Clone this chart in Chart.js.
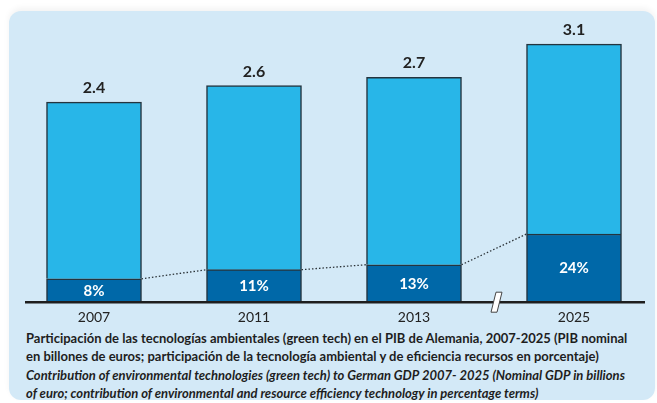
<!DOCTYPE html>
<html>
<head>
<meta charset="utf-8">
<script src="https://cdn.jsdelivr.net/npm/chart.js@4"></script>
<style>
  html, body { margin: 0; padding: 0; background: #fff; width: 657px; height: 403px; overflow: hidden; }
  #panel {
    position: absolute; left: 9px; top: 11px; width: 646px; height: 389px;
    background: #d3e9f7; border-radius: 12px;
    box-shadow: 0 -3px 6px rgba(0,0,0,0.05);
  }
  #graph1 { position: absolute; left: 0; top: 0; }
  #caption {
    position: absolute; left: 26px; top: 329px; width: 630px; white-space: nowrap;
    font-family: Lato, "Noto Sans", sans-serif; font-weight: bold; font-size: 13px;
    line-height: 18.4px; color: #1e1e1e;
  }
  #caption i { font-style: italic; }
</style>
</head>
<body>
<div id="panel"></div>
<canvas id="graph1" width="657" height="326"></canvas>
<div id="caption">
  Participación de las tecnologías ambientales (green tech) en el PIB de Alemania, 2007-2025 (PIB nominal<br>
  en billones de euros; participación de la tecnología ambiental y de eficiencia recursos en porcentaje)<br>
  <i>Contribution of environmental technologies (green tech) to German GDP 2007- 2025 (Nominal GDP in billions<br>
  of euro; contribution of environmental and resource efficiency technology in percentage terms)</i>
</div>
<script>
// years on the axis
const years = ['2007', '2011', '2013', '2025'];
// nominal GDP, billions of euro (label above the bar)
const gdpTotal = [2.4, 2.6, 2.7, 3.1];
// green tech part of the bar, as drawn (billions)
const greenTech = [0.27, 0.38, 0.44, 0.81];
// share label inside the dark part
const sharePct = ['8%', '11%', '13%', '24%'];

const restOfGdp = gdpTotal.map((v, i) => +(v - greenTech[i]).toFixed(2));

const labelFont = 'Lato, "Noto Sans", sans-serif';

const decorPlugin = {
    id: 'decor',
    afterDatasetsDraw(chart) {
        const ctx = chart.ctx;
        const dark = chart.getDatasetMeta(0).data;
        const light = chart.getDatasetMeta(1).data;
        const area = chart.chartArea;

        // dotted link between the dark segments
        ctx.save();
        ctx.strokeStyle = '#2b3338';
        ctx.lineWidth = 1.3;
        ctx.setLineDash([1.5, 2]);
        ctx.beginPath();
        for (let i = 0; i < dark.length - 1; i++) {
            const a = dark[i], b = dark[i + 1];
            ctx.moveTo(a.x + a.width / 2, a.y);
            ctx.lineTo(b.x - b.width / 2, b.y);
        }
        ctx.stroke();
        ctx.restore();

        // axis line with break
        const yAxis = area.bottom + 1;
        ctx.save();
        ctx.strokeStyle = '#1e1e1e';
        ctx.lineWidth = 2.5;
        ctx.beginPath();
        ctx.moveTo(25, yAxis);
        ctx.lineTo(645, yAxis);
        ctx.stroke();
        ctx.fillStyle = '#ffffff';
        ctx.strokeStyle = '#444';
        ctx.lineWidth = 1;
        ctx.beginPath();
        ctx.moveTo(491, yAxis + 10);
        ctx.lineTo(496, yAxis - 10);
        ctx.lineTo(502, yAxis - 10);
        ctx.lineTo(497, yAxis + 10);
        ctx.closePath();
        ctx.fill();
        ctx.stroke();
        ctx.restore();

        // value labels
        ctx.save();
        ctx.textAlign = 'center';
        ctx.textBaseline = 'middle';
        ctx.font = 'bold 16px ' + labelFont;
        ctx.fillStyle = '#222';
        light.forEach((el, i) => {
            ctx.fillText(gdpTotal[i].toFixed(1), el.x, el.y - 14);
        });
        ctx.fillStyle = '#ffffff';
        ctx.font = 'bold 15px ' + labelFont;
        dark.forEach((el, i) => {
            ctx.fillText(sharePct[i], el.x, (el.y + el.base) / 2 + 1);
        });
        ctx.restore();
    }
};

new Chart(document.querySelector('#graph1'), {
    type: 'bar',
    data: {
        labels: years,
        datasets: [{
            label: 'Green tech',
            data: greenTech,
            backgroundColor: '#0068a8',
            borderColor: '#24343e',
            borderWidth: 1.5,
            barThickness: 95
        }, {
            label: 'GDP',
            data: restOfGdp,
            backgroundColor: '#28b6e8',
            borderColor: '#24343e',
            borderWidth: 1.5,
            barThickness: 95
        }]
    },
    options: {
        responsive: false,
        animation: false,
        devicePixelRatio: 1,
        layout: { padding: { left: 14, right: 3, top: 40, bottom: 0 } },
        plugins: { legend: { display: false }, tooltip: { enabled: false } },
        scales: {
            x: {
                stacked: true,
                grid: { display: false },
                border: { display: false },
                ticks: { color: '#222', font: { family: labelFont, size: 14 }, padding: 0 }
            },
            y: {
                stacked: true,
                display: false,
                min: 0,
                max: 3.15
            }
        }
    },
    plugins: [decorPlugin]
});
</script>
</body>
</html>
